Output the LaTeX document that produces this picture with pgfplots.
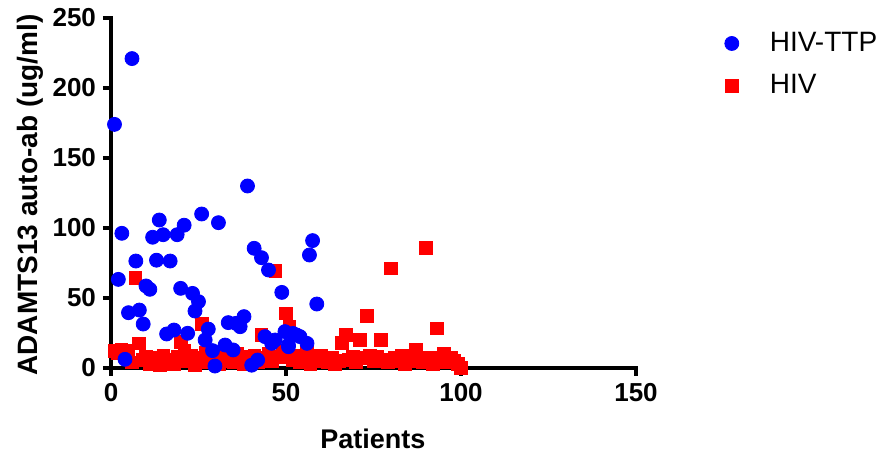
\documentclass[border=0pt]{standalone}
\usepackage{pgfplots}
\pgfplotsset{compat=1.18}
\usepackage{fontspec}
\setmainfont{Liberation Sans}
\begin{document}
\begin{tikzpicture}
\useasboundingbox (-55.5pt,-43pt) rectangle (384pt,184pt);
\begin{axis}[
  at={(0,0)}, anchor=south west,
  scale only axis, width=262.5pt, height=175pt,
  xmin=0, xmax=150, ymin=0, ymax=250,
  axis x line=bottom, axis y line=left,
  axis line style={-, line width=1.8pt, line cap=rect},
  xtick={0,50,100,150}, ytick={0,50,100,150,200,250},
  tick align=outside, major tick length=4pt,
  tick style={line width=1.8pt, black},
  /pgf/number format/assume math mode=true,
  ticklabel style={font=\bfseries\fontsize{13}{15}\selectfont},
  xlabel={Patients}, ylabel={ADAMTS13 auto-ab (ug/ml)},
  xlabel style={font=\bfseries\fontsize{13.5}{16}\selectfont, at={(axis description cs:0.499,-0.203)}, anchor=center},
  ylabel style={font=\bfseries\fontsize{14}{16}\selectfont, at={(axis description cs:-0.154,0.494)}, anchor=center},
  clip=false,
  reverse legend,
  legend cell align=left,
  legend style={draw=none, fill=none, font=\fontsize{14}{16}\selectfont, at={(1.157,0.983)}, anchor=north west, row sep=6pt,
    /tikz/every odd column/.append style={column sep=13.5pt}},
]
\addplot[only marks, mark=square*, mark size=3.2pt, mark options={draw=red, fill=red}] coordinates {
(1,12) (2,11) (3,13) (4,10) (5,12) (6,4) (7,64.5) (8,17.6) (9,6) (10,8)
(11,3) (12,5) (13,7) (14,2) (15,9) (16,4) (17,6) (18,3) (19,8) (20,18.8)
(21,12) (22,5) (23,9) (24,2) (25,7) (26,31.4) (27,11) (28,4) (29,8) (30,6)
(31,3) (32,9) (33,5) (34,7) (35,4) (36,10) (37,6) (38,3) (39,8) (40,5)
(41,9) (42,4) (43,23.6) (44,7) (45,10) (46,5) (47,69.3) (48,8) (49,12) (50,39)
(51,29.5) (52,6) (53,9) (54,4) (55,7) (56,11) (57,3) (58,8) (59,5) (60,9)
(61,6) (62,4) (63,7) (64,3) (65,5) (66,18.1) (67,23.6) (68,6) (69,8) (70,4)
(71,20) (72,7) (73,37.1) (74,9) (75,5) (76,8) (77,20) (78,6) (79,4) (80,71.2)
(81,7) (82,5) (83,9) (84,3) (85,6) (86,8) (87,12.9) (88,5) (89,4) (90,86)
(91,7) (92,3) (93,28.3) (94,6) (95,10) (96,4) (97,7) (98,5) (99,3) (100,0)
};
\addlegendentry{HIV}
\addplot[only marks, mark=*, mark size=3.5pt, mark options={draw=blue, fill=blue}] coordinates {
(1,174) (2.1,63.3) (3.1,96.2) (4,6.2) (5,39.5) (6,221) (7.1,76.4) (8.1,41.4)
(9.2,31.4) (10,58.6) (11.1,56.2) (11.9,93.4) (13,77) (13.8,105.7) (14.9,95.2)
(15.9,24.3) (16.9,76.4) (18,27.1) (18.9,95.2) (19.9,56.9) (20.9,102) (21.9,24.8)
(23.3,53.3) (24,40.7) (25,47.4) (25.9,110) (26.9,20) (27.8,27.8) (29,12.4)
(29.7,1.4) (30.7,103.8) (32.6,16.4) (33.5,32.4) (34.9,12.9) (35.7,31.9)
(36.9,29.5) (38,36.7) (39,130) (40.2,2) (40.9,85.5) (41.9,5.7) (43,78.8)
(44,22.4) (45,70) (45.9,17.6) (46.9,20) (48.8,54) (49.7,26) (50.7,16.4)
(50.7,15.2) (52,24.7) (53,23.6) (54,22.4) (56,17.6) (56.7,80.7) (57.6,91)
(58.8,45.7)
};
\addlegendentry{HIV-TTP}
\end{axis}
\end{tikzpicture}
\end{document}
